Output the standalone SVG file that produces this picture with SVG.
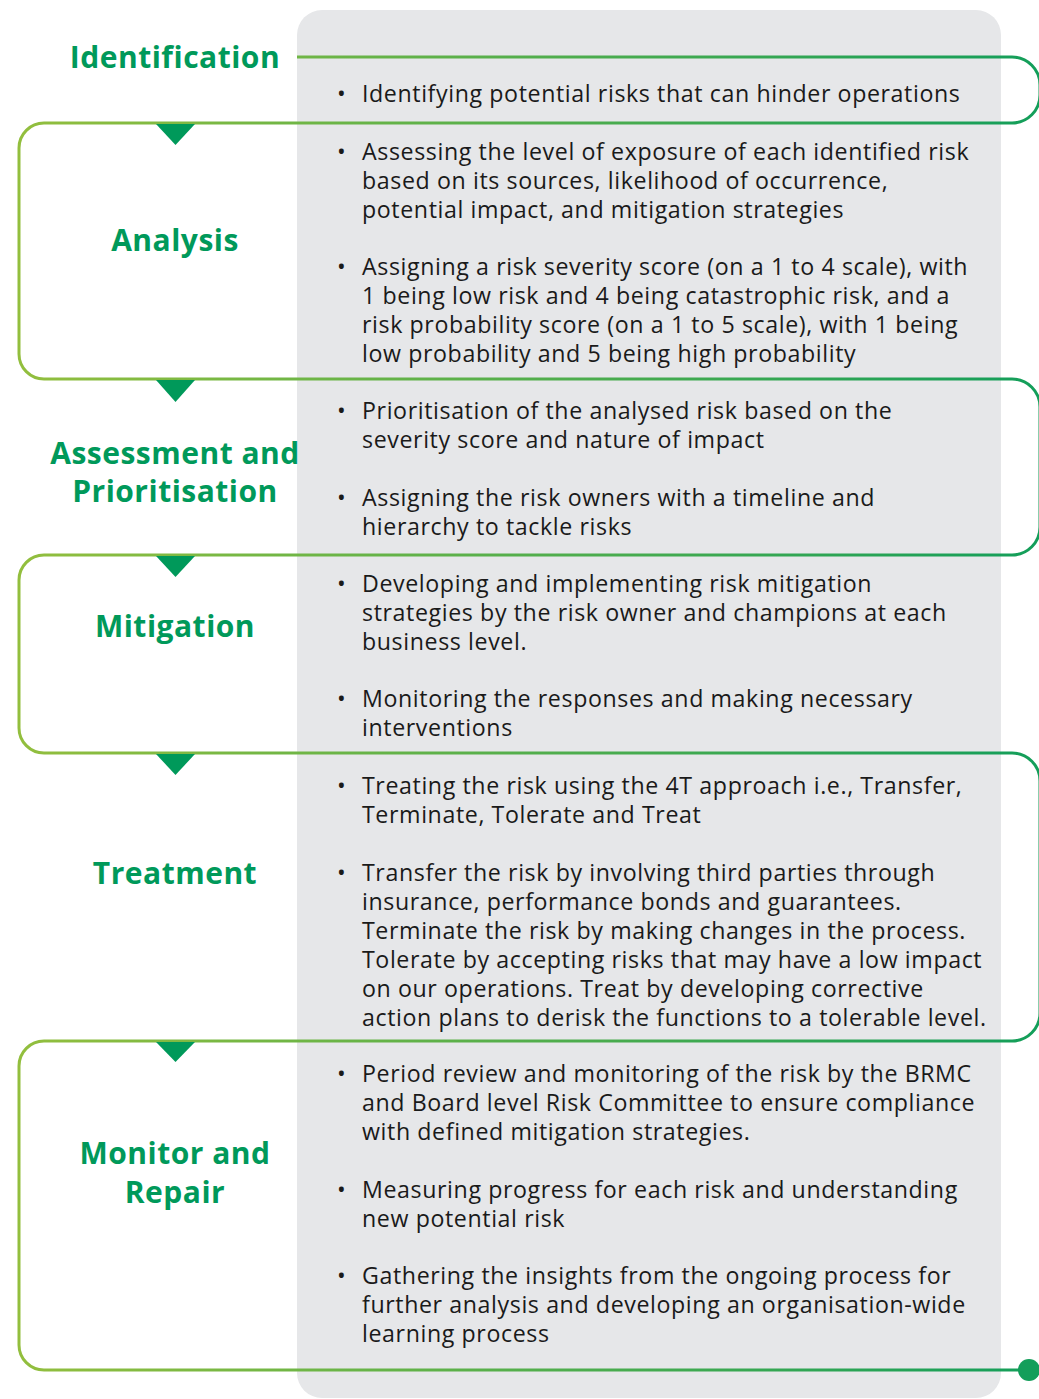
<svg xmlns="http://www.w3.org/2000/svg" width="1039" height="1399" viewBox="0 0 1039 1399">
<style>
.h{font-family:"Open Sans","Noto Sans",sans-serif;font-weight:bold;font-size:30px;letter-spacing:0.5px;fill:#00995a;text-anchor:middle}
.t{font-family:"Open Sans","Noto Sans",sans-serif;font-size:23.2px;letter-spacing:0.6px;fill:#1a1a1a}
.tri{fill:#00995a}
</style>
<defs>
<linearGradient id="g" gradientUnits="userSpaceOnUse" x1="0" y1="0" x2="1039" y2="0">
<stop offset="0" stop-color="#95bf3d"/>
<stop offset="1" stop-color="#139e5a"/>
</linearGradient>
</defs>
<rect x="0" y="0" width="1039" height="1399" fill="#ffffff"/>
<rect id="panel" x="297" y="10" width="704" height="1388" rx="25" fill="#e6e7e9"/>
<g id="connectors">
<path d="M297,57 H1012 A28,28 0 0 1 1040,85 V95 A28,28 0 0 1 1012,123 H44 A25,25 0 0 0 19,148 V354 A25,25 0 0 0 44,379 H1012 A28,28 0 0 1 1040,407 V527 A28,28 0 0 1 1012,555 H44 A25,25 0 0 0 19,580 V728 A25,25 0 0 0 44,753 H1012 A28,28 0 0 1 1040,781 V1013 A28,28 0 0 1 1012,1041 H44 A25,25 0 0 0 19,1066 V1345 A25,25 0 0 0 44,1370 H1029" fill="none" stroke="url(#g)" stroke-width="3"/>
<circle cx="1029" cy="1370" r="11" fill="#139e5a"/>
<polygon class="tri" points="156,124 195,124 175.5,145"/>
<polygon class="tri" points="156,380 195,380 175.5,402"/>
<polygon class="tri" points="156,556 195,556 175.5,577"/>
<polygon class="tri" points="156,754 195,754 175.5,775"/>
<polygon class="tri" points="156,1042 195,1042 175.5,1062"/>
</g>
<g id="identification">
<text class="h" x="175" y="68">Identification</text>
<text class="t" x="337" y="102">•</text>
<text class="t" x="362" y="102">Identifying potential risks that can hinder operations</text>
</g>
<g id="analysis">
<text class="h" x="175" y="251">Analysis</text>
<text class="t" x="337" y="160">•</text>
<text class="t" x="362" y="160">Assessing the level of exposure of each identified risk</text>
<text class="t" x="362" y="189">based on its sources, likelihood of  occurrence,</text>
<text class="t" x="362" y="218">potential impact, and mitigation strategies</text>
<text class="t" x="337" y="275">•</text>
<text class="t" x="362" y="275">Assigning a risk severity score (on a 1 to 4 scale), with</text>
<text class="t" x="362" y="304">1 being low risk and 4 being catastrophic risk, and a</text>
<text class="t" x="362" y="333">risk probability score (on a 1 to 5 scale), with 1 being</text>
<text class="t" x="362" y="362">low probability and 5 being high probability</text>
</g>
<g id="assessment">
<text class="h" x="175" y="464">Assessment and</text>
<text class="h" x="175" y="502">Prioritisation</text>
<text class="t" x="337" y="419">•</text>
<text class="t" x="362" y="419">Prioritisation of the analysed risk based on the</text>
<text class="t" x="362" y="448">severity score and nature of impact</text>
<text class="t" x="337" y="506">•</text>
<text class="t" x="362" y="506">Assigning the risk owners with a timeline and</text>
<text class="t" x="362" y="535">hierarchy to tackle risks</text>
</g>
<g id="mitigation">
<text class="h" x="175" y="637">Mitigation</text>
<text class="t" x="337" y="592">•</text>
<text class="t" x="362" y="592">Developing and implementing risk mitigation</text>
<text class="t" x="362" y="621">strategies by the risk owner and champions at each</text>
<text class="t" x="362" y="650">business level.</text>
<text class="t" x="337" y="707">•</text>
<text class="t" x="362" y="707">Monitoring the responses and making necessary</text>
<text class="t" x="362" y="736">interventions</text>
</g>
<g id="treatment">
<text class="h" x="175" y="884">Treatment</text>
<text class="t" x="337" y="794">•</text>
<text class="t" x="362" y="794">Treating  the risk using the 4T approach i.e., Transfer,</text>
<text class="t" x="362" y="823">Terminate, Tolerate and Treat</text>
<text class="t" x="337" y="881">•</text>
<text class="t" x="362" y="881">Transfer the risk by involving third parties through</text>
<text class="t" x="362" y="910">insurance, performance bonds and guarantees.</text>
<text class="t" x="362" y="939">Terminate the risk by making changes in the process.</text>
<text class="t" x="362" y="968">Tolerate by accepting risks that may have a low impact</text>
<text class="t" x="362" y="997">on our operations. Treat by developing corrective</text>
<text class="t" x="362" y="1026">action plans to derisk the functions to a tolerable level.</text>
</g>
<g id="monitor">
<text class="h" x="175" y="1164">Monitor and</text>
<text class="h" x="175" y="1203">Repair</text>
<text class="t" x="337" y="1082">•</text>
<text class="t" x="362" y="1082">Period review and monitoring of the risk by the BRMC</text>
<text class="t" x="362" y="1111">and Board level Risk Committee to ensure compliance</text>
<text class="t" x="362" y="1140">with defined mitigation strategies.</text>
<text class="t" x="337" y="1198">•</text>
<text class="t" x="362" y="1198">Measuring progress for each risk and understanding</text>
<text class="t" x="362" y="1227">new potential risk</text>
<text class="t" x="337" y="1284">•</text>
<text class="t" x="362" y="1284">Gathering the insights from the ongoing process  for</text>
<text class="t" x="362" y="1313">further analysis and developing an organisation-wide</text>
<text class="t" x="362" y="1342">learning process</text>
</g>
</svg>
